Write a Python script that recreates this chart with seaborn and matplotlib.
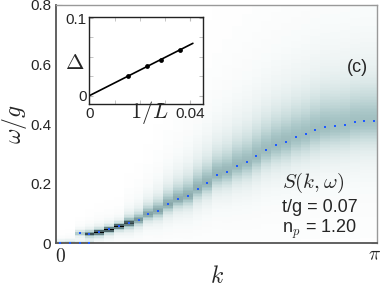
import numpy as np
import pandas as pd
import seaborn as sns
import matplotlib.pyplot as plt
from matplotlib.colors import LinearSegmentedColormap
from matplotlib.ticker import MultipleLocator

# momentum grid: k = 2*pi*n/64, n = 0..32
n_k = [i for i in range(33)]

# dispersion (blue dots), omega/g
w_disp = [0.003, 0.003, 0.035, 0.033, 0.038, 0.047, 0.058, 0.068, 0.079, 0.098,
          0.109, 0.131, 0.148, 0.159, 0.184, 0.202, 0.230, 0.240, 0.260, 0.272,
          0.293, 0.314, 0.331, 0.342, 0.357, 0.366, 0.380, 0.391, 0.394, 0.397,
          0.407, 0.410, 0.410]
# low branch at omega ~ 0
low_n = [2, 3]
low_w = [0.003, 0.003]
low_amp = [0.15, 0.15]

# spectral weight per column: peak height and half widths below / above
amp = [0.18, 0.22, 0.3, 0.7, 1.0, 1.0, 1.0, 0.75, 0.5, 0.45,
       0.43, 0.42, 0.41, 0.40, 0.39, 0.38, 0.37, 0.36, 0.36, 0.35,
       0.35, 0.34, 0.34, 0.34, 0.33, 0.33, 0.33, 0.33, 0.32, 0.32,
       0.32, 0.32, 0.32]
gam_lo = [0.006, 0.006, 0.006, 0.006, 0.006, 0.006, 0.006, 0.009, 0.012, 0.014,
          0.017, 0.020, 0.022, 0.025, 0.028, 0.030, 0.033, 0.036, 0.039, 0.042,
          0.045, 0.047, 0.050, 0.052, 0.054, 0.055, 0.057, 0.058, 0.060, 0.060,
          0.062, 0.062, 0.062]
gam_hi = [0.006, 0.006, 0.006, 0.006, 0.006, 0.006, 0.006, 0.012, 0.017, 0.022,
          0.028, 0.034, 0.039, 0.045, 0.050, 0.056, 0.060, 0.066, 0.070, 0.075,
          0.078, 0.081, 0.084, 0.087, 0.090, 0.092, 0.094, 0.095, 0.096, 0.097,
          0.098, 0.098, 0.098]

# inset: gap vs 1/L
inv_L = [0.0152, 0.0229, 0.0282, 0.0360]
gap = [0.0252, 0.0380, 0.0466, 0.0595]
fit_x = [0.0, 0.041]
fit_y = [0.0, 0.0675]

sns.set_style("ticks")
plt.rcParams['font.family'] = ['Liberation Sans', 'DejaVu Sans']
plt.rcParams['mathtext.fontset'] = 'cm'

k_vals = np.array(n_k) * np.pi / 32
dk = np.pi / 32
w_edges = np.arange(0, 0.8001, 0.005)
w_mid = 0.5 * (w_edges[1:] + w_edges[:-1])
k_edges = np.append(k_vals - dk / 2, k_vals[-1] + dk / 2)

S = np.zeros((len(w_mid), len(k_vals)))
for j in range(len(k_vals)):
    d = w_mid - w_disp[j]
    g = np.where(d < 0, gam_lo[j], gam_hi[j])
    S[:, j] += amp[j] / (1 + (d / g) ** 2)
for n, w0, a in zip(low_n, low_w, low_amp):
    S[:, n] += a / (1 + ((w_mid - w0) / 0.005) ** 2)
S = np.clip(S, 0, 1)

cmap = LinearSegmentedColormap.from_list(
    "sk", [(0.0, "#ffffff"), (0.04, "#f1f6f6"), (0.15, "#d0e1e1"),
           (0.3, "#a6c4c5"), (0.5, "#759598"), (0.7, "#3a4f53"),
           (1.0, "#000000")])

fig = plt.figure(figsize=(3.82, 2.87), dpi=100)
ax = fig.add_axes([0.1466, 0.1516, 0.8416, 0.831])
ax.pcolormesh(k_edges, w_edges, S, cmap=cmap, vmin=0, vmax=1, shading='flat')

dots = pd.DataFrame({"k": list(k_vals) + [k_vals[n] for n in low_n],
                     "w": w_disp + low_w})
sns.scatterplot(data=dots, x="k", y="w", ax=ax, color="#1f5bff", s=4,
                marker="s", linewidth=0, zorder=3)

ax.set_xlim(-0.04, np.pi + 0.032)
ax.set_ylim(0, 0.8)
ax.set_xticks([0, np.pi])
ax.set_xticklabels([r"$0$", r"$\pi$"], fontsize=14)
ax.set_yticks([0, 0.2, 0.4, 0.6, 0.8])
ax.set_yticklabels(["0", "0.2", "0.4", "0.6", "0.8"], fontsize=11)
ax.yaxis.set_minor_locator(MultipleLocator(0.1))
ax.tick_params(which='both', direction='in', color='#bbbbbb', length=4,
               right=True, top=False)
ax.tick_params(axis='x', pad=3)
ax.set_xlabel(r"$k$", fontsize=17, va='center')
ax.xaxis.set_label_coords(0.5, -0.14)
ax.set_ylabel(r"$\omega/g$", fontsize=17, va='center')
ax.yaxis.set_label_coords(-0.128, 0.5)
for s in ['left', 'bottom']:
    ax.spines[s].set_color('#555555')
    ax.spines[s].set_linewidth(1.3)
for s in ['top', 'right']:
    ax.spines[s].set_color('#999999')
    ax.spines[s].set_linewidth(1.0)

ax.text(2.97, 0.589, "(c)", fontsize=13, ha='center', va='center')
ax.text(2.22, 0.2025, r"$S(k,\omega)$", fontsize=15, ha='left', va='center')
ax.text(2.22, 0.1215, "t/g = 0.07", fontsize=13, ha='left', va='center')
ax.text(2.22, 0.0486, r"n$_p$ = 1.20", fontsize=13, ha='left', va='center')

# inset
ins = fig.add_axes([0.2338, 0.6376, 0.2976, 0.3021])
ins_df = pd.DataFrame({"x": inv_L, "y": gap})
sns.lineplot(x=fit_x, y=fit_y, ax=ins, color='black', linewidth=1.2)
sns.scatterplot(data=ins_df, x="x", y="y", ax=ins, color='black', s=12,
                linewidth=0, zorder=3)
ins.set_xlim(0, 0.045)
ins.set_ylim(-0.0107, 0.101)
ins.set_xticks([0, 0.04])
ins.set_xticklabels(["0", "0.04"], fontsize=11)
ins.set_yticks([0, 0.1])
ins.set_yticklabels(["0", "0.1"], fontsize=11)
ins.xaxis.set_minor_locator(MultipleLocator(0.01))
ins.yaxis.set_minor_locator(MultipleLocator(0.025))
ins.tick_params(which='both', direction='in', color='#bbbbbb', length=3,
                right=True, top=True, pad=2)
ins.set_xlabel(r"$1/L$", fontsize=16, va='center')
ins.xaxis.set_label_coords(0.53, -0.1)
ins.set_ylabel(r"$\Delta$", fontsize=16, rotation=0, va='center', ha='center')
ins.yaxis.set_label_coords(-0.126, 0.47)
for s in ins.spines.values():
    s.set_color('#222222')
    s.set_linewidth(1.0)

fig.savefig("out.png", dpi=100)
